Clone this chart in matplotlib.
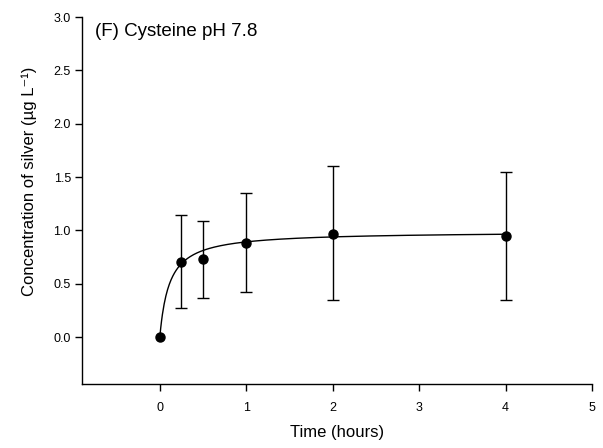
import numpy as np
import matplotlib
matplotlib.use('Agg')
import matplotlib.pyplot as plt

plt.rcParams['font.family'] = ['Liberation Sans', 'DejaVu Sans']

# 측정값 (시간, 평균, 오차 상/하한)
time_h = [0, 0.25, 0.5, 1, 2, 4]
conc = [0.0, 0.70, 0.73, 0.88, 0.97, 0.95]
err_top = [0.0, 1.14, 1.09, 1.35, 1.60, 1.55]
err_bot = [0.0, 0.27, 0.37, 0.42, 0.35, 0.35]

# 포화곡선 피팅 파라미터 y = a*x/(b+x)
fit_a = 0.99
fit_b = 0.11

fig = plt.figure(figsize=(6.03, 4.48), dpi=100)
ax = fig.add_axes([0.136, 0.143, 0.846, 0.819])

xs = np.linspace(0, 4, 400)
ax.plot(xs, fit_a * xs / (fit_b + xs), color='black', lw=1.0)

t = np.array(time_h)
c = np.array(conc)
top = np.array(err_top)
bot = np.array(err_bot)
has_err = (top - bot) > 0

# 오차막대는 오차가 있는 점만
ax.errorbar(t[has_err], c[has_err], yerr=[c[has_err] - bot[has_err], top[has_err] - c[has_err]],
            fmt='none', ecolor='black', elinewidth=1.0, capsize=4, capthick=1.0)
ax.plot(t, c, 'o', color='black', ms=6.5)

ax.set_xlim(-0.9, 5)
ax.set_ylim(-0.44, 3.0)
ax.set_xticks([0, 1, 2, 3, 4, 5])
ax.set_yticks([0.0, 0.5, 1.0, 1.5, 2.0, 2.5, 3.0])
ax.set_yticklabels(['0.0', '0.5', '1.0', '1.5', '2.0', '2.5', '3.0'])
ax.tick_params(direction='out', length=5, width=1, labelsize=9)
ax.tick_params(axis='x', pad=8)
ax.tick_params(axis='y', pad=3)

for s in ['top', 'right']:
    ax.spines[s].set_visible(False)
for s in ['left', 'bottom']:
    ax.spines[s].set_linewidth(1.0)

ax.set_xlabel('Time (hours)', fontsize=12, labelpad=8)
ax.set_ylabel('Concentration of silver (µg L⁻¹)', fontsize=12)
ax.yaxis.set_label_coords(-0.088, 0.553)
ax.text(0.025, 0.985, '(F) Cysteine pH 7.8', transform=ax.transAxes,
        fontsize=13.5, va='top', ha='left')

fig.savefig('out.png', dpi=100)
